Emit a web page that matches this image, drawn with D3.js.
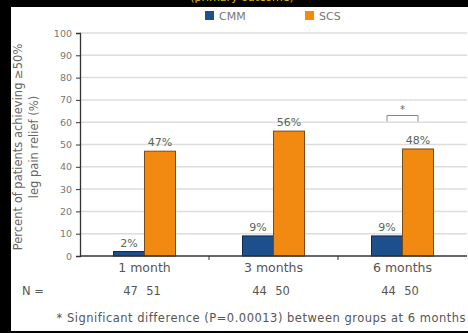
<!DOCTYPE html>
<html>
<head>
<meta charset="utf-8">
<script src="https://cdn.jsdelivr.net/npm/d3@7"></script>
<style>
  body { margin: 0; background: #000; }
  svg { display: block; }
</style>
</head>
<body>
<div id="chart"></div>
<script>
const categories = ["1 month", "3 months", "6 months"];
const seriesNames = ["CMM", "SCS"];
const cmmValues = [2, 9, 9];
const scsValues = [47, 56, 48];
const cmmN = [47, 44, 44];
const scsN = [51, 50, 50];
const yTicks = [0, 10, 20, 30, 40, 50, 60, 70, 80, 90, 100];
const footnote = "* Significant difference (P=0.00013) between groups at 6 months";

const W = 468, H = 333;
const plot = { left: 80, right: 467, top: 33, bottom: 256 };
const colors = { CMM: "#1c4f8c", SCS: "#f28a12" };

const svg = d3.select("#chart").append("svg")
    .attr("width", W)
    .attr("height", H)
    .style("font-family", "'DejaVu Sans', sans-serif");

// clipped caption leftover at the very top
svg.append("text")
    .attr("x", 242).attr("y", 1)
    .attr("text-anchor", "middle")
    .attr("fill", "#e8c21a")
    .style("font-size", "11px")
    .text("(primary outcome)");

svg.append("rect")
    .attr("x", 11).attr("y", 7)
    .attr("width", W - 11).attr("height", 324)
    .attr("fill", "#fff");

const x0 = d3.scaleBand().domain(categories).range([plot.left, plot.right]);
const x1 = d3.scaleBand().domain(seriesNames).range([x0.bandwidth() / 2 - 31, x0.bandwidth() / 2 + 31]);
const y = d3.scaleLinear().domain([0, 100]).range([plot.bottom, plot.top]);

// grid
svg.append("g")
    .selectAll("line")
    .data(yTicks.filter(d => d > 0))
    .join("line")
    .attr("x1", plot.left).attr("x2", plot.right)
    .attr("y1", d => y(d)).attr("y2", d => y(d))
    .attr("stroke", "#dcdcdc")
    .attr("stroke-width", 1.5);

// y axis
const yAxis = svg.append("g")
    .attr("transform", "translate(" + plot.left + ",0)")
    .call(d3.axisLeft(y).tickValues(yTicks).tickSize(4).tickPadding(4));
yAxis.select(".domain").attr("stroke", "#333").attr("stroke-width", 1.3);
yAxis.selectAll(".tick line").attr("stroke", "#333");
yAxis.selectAll("text").attr("fill", "#777")
    .style("font-family", "'DejaVu Sans', sans-serif").style("font-size", "9.5px");

// y title
const yTitle = svg.append("text")
    .attr("transform", "translate(22,147) rotate(-90)")
    .attr("text-anchor", "middle")
    .attr("fill", "#666")
    .style("font-size", "11.5px");
yTitle.append("tspan").attr("x", 0).attr("dy", 0).text("Percent of patients achieving \u226550%");
yTitle.append("tspan").attr("x", 0).attr("dy", 16).text("leg pain relief (%)");

// bars
const rows = categories.map((c, i) => ({ cat: c, CMM: cmmValues[i], SCS: scsValues[i] }));
const groups = svg.append("g")
    .selectAll("g")
    .data(rows)
    .join("g")
    .attr("transform", d => "translate(" + x0(d.cat) + ",0)");

groups.selectAll("rect")
    .data(d => seriesNames.map(k => ({ key: k, value: d[k] })))
    .join("rect")
    .attr("x", d => x1(d.key))
    .attr("y", d => y(d.value))
    .attr("width", x1.bandwidth())
    .attr("height", d => plot.bottom - y(d.value))
    .attr("fill", d => colors[d.key])
    .attr("stroke", d => d.key === "SCS" ? "#7a4a14" : "#0e2a4d")
    .attr("stroke-width", 1);

groups.selectAll("text.val")
    .data(d => seriesNames.map(k => ({ key: k, value: d[k] })))
    .join("text")
    .attr("class", "val")
    .attr("x", d => x1(d.key) + x1.bandwidth() / 2)
    .attr("y", d => y(d.value) - 5)
    .attr("text-anchor", "middle")
    .attr("fill", "#556655")
    .style("font-size", "11px")
    .text(d => d.value + "%");

// x axis
svg.append("line")
    .attr("x1", plot.left).attr("x2", plot.right)
    .attr("y1", plot.bottom).attr("y2", plot.bottom)
    .attr("stroke", "#333").attr("stroke-width", 1.3);
svg.append("g")
    .selectAll("line")
    .data(categories.slice(1))
    .join("line")
    .attr("x1", d => x0(d)).attr("x2", d => x0(d))
    .attr("y1", plot.bottom).attr("y2", plot.bottom + 4)
    .attr("stroke", "#333");

svg.append("g")
    .selectAll("text")
    .data(categories)
    .join("text")
    .attr("x", d => x0(d) + x0.bandwidth() / 2)
    .attr("y", 272)
    .attr("text-anchor", "middle")
    .attr("fill", "#555")
    .style("font-size", "12.5px")
    .text(d => d);

// N row
svg.append("text")
    .attr("x", 22).attr("y", 295)
    .attr("fill", "#555")
    .style("font-size", "11.5px")
    .text("N =");
const nRow = svg.append("g");
categories.forEach((c, i) => {
    const cx = x0(c) + x0.bandwidth() / 2;
    nRow.append("text").attr("x", cx - 14).attr("y", 295).attr("text-anchor", "middle")
        .attr("fill", "#555").style("font-size", "11.5px").text(cmmN[i]);
    nRow.append("text").attr("x", cx + 9).attr("y", 295).attr("text-anchor", "middle")
        .attr("fill", "#555").style("font-size", "11.5px").text(scsN[i]);
});

// significance bracket at 6 months
const last = categories[2];
const bx1 = x0(last) + x1("CMM") + x1.bandwidth() / 2;
const bx2 = x0(last) + x1("SCS") + x1.bandwidth() / 2;
const by = y(63);
svg.append("path")
    .attr("d", "M" + bx1 + "," + (by + 6) + "V" + by + "H" + bx2 + "V" + (by + 6))
    .attr("fill", "none")
    .attr("stroke", "#888");
svg.append("text")
    .attr("x", (bx1 + bx2) / 2).attr("y", by - 3)
    .attr("text-anchor", "middle")
    .attr("fill", "#666")
    .style("font-size", "10px")
    .text("*");

// legend
const legend = svg.append("g");
const legendX = [205, 305];
seriesNames.forEach((k, i) => {
    legend.append("rect").attr("x", legendX[i]).attr("y", 11)
        .attr("width", 9).attr("height", 9).attr("fill", colors[k]);
    legend.append("text").attr("x", legendX[i] + 14).attr("y", 19.5)
        .attr("fill", "#777").style("font-size", "11px").text(k);
});

// footnote
svg.append("text")
    .attr("x", 466).attr("y", 322)
    .attr("text-anchor", "end")
    .attr("fill", "#555")
    .style("font-size", "11.5px")
    .style("letter-spacing", "0.5px")
    .text(footnote);
</script>
</body>
</html>
